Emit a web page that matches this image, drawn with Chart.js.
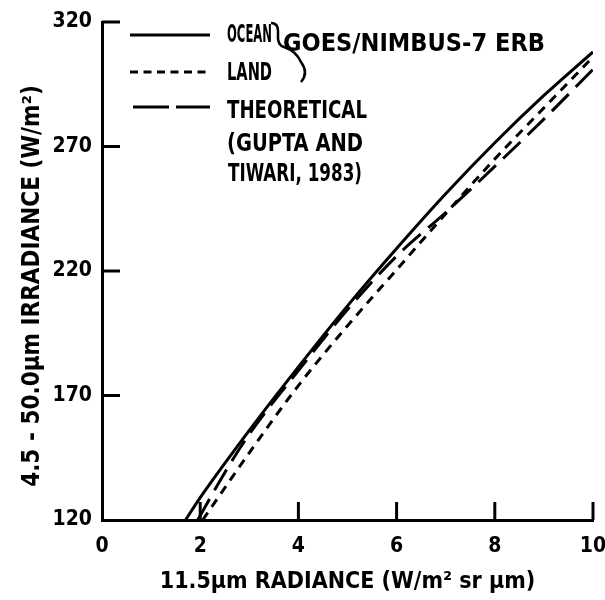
<!DOCTYPE html>
<html>
<head>
<meta charset="utf-8">
<script src="https://cdn.jsdelivr.net/npm/chart.js@4.4.1/dist/chart.umd.min.js"></script>
<style>
html,body{margin:0;padding:0;background:#fff;}
#wrap{width:605px;height:600px;}
</style>
</head>
<body>
<div id="wrap"><canvas id="c" width="605" height="600"></canvas></div>
<script>
// ---- data ----
const oceanX = [1.7, 2, 3, 4, 5, 6, 7, 8, 9, 10];
const oceanY = [120, 129, 156, 181.5, 206, 229, 251, 271.5, 290.5, 308];
const landX  = [2.05, 3, 4, 5, 6, 7, 8, 9, 10];
const landY  = [120, 147, 174, 198, 220.5, 243, 265, 285.5, 306];
const theoX  = [1.95, 2.5, 3, 4, 5, 6, 7, 8, 9, 10];
const theoY  = [120, 139, 154.5, 180, 204.5, 226, 243.5, 262, 281, 301];
const xTickMarks = [2, 4, 6, 8, 10];
const yTickMarks = [170, 220, 270, 320];
const legendLines = ['OCEAN', 'LAND', 'THEORETICAL', '(GUPTA AND', 'TIWARI, 1983)'];
const legendGroup = 'GOES/NIMBUS-7 ERB';
const xTitle = '11.5\u00B5m RADIANCE (W/m\u00B2 sr \u00B5m)';
const yTitle = '4.5 - 50.0\u00B5m IRRADIANCE (W/m\u00B2)    ';

const FONT = '"DejaVu Sans Condensed", "Liberation Sans Narrow", sans-serif';
const toXY = (xs, ys) => xs.map((x, i) => ({x: x, y: ys[i]}));

const innerTicks = {
  id: 'innerTicks',
  afterDatasetsDraw(chart) {
    const {ctx, scales: {x, y}, chartArea} = chart;
    ctx.save();
    ctx.strokeStyle = '#000';
    ctx.lineWidth = 3;
    ctx.lineCap = 'butt';
    ctx.beginPath();
    yTickMarks.forEach(v => {
      const py = y.getPixelForValue(v);
      ctx.moveTo(chartArea.left, py);
      ctx.lineTo(chartArea.left + 18, py);
    });
    xTickMarks.forEach(v => {
      const px = x.getPixelForValue(v);
      ctx.moveTo(px, chartArea.bottom);
      ctx.lineTo(px, chartArea.bottom - 18);
    });
    ctx.stroke();
    ctx.restore();
  }
};

// text squeezed/stretched horizontally to the lettering width of the reference
function fitText(ctx, text, x, y, width) {
  const w = ctx.measureText(text).width;
  ctx.save();
  ctx.translate(x, y);
  ctx.scale(width / w, 1);
  ctx.fillText(text, 0, 0);
  ctx.restore();
}

const customLegend = {
  id: 'customLegend',
  afterDraw(chart) {
    const ctx = chart.ctx;
    ctx.save();
    ctx.strokeStyle = '#000';
    ctx.fillStyle = '#000';
    ctx.lineWidth = 3;
    const samples = [
      {y: 35, dash: [], x1: 130, x2: 210},
      {y: 72, dash: [8, 5.5], x1: 130, x2: 208},
      {y: 107, dash: [36, 7], x1: 133, x2: 210}
    ];
    samples.forEach(s => {
      ctx.setLineDash(s.dash);
      ctx.beginPath();
      ctx.moveTo(s.x1, s.y);
      ctx.lineTo(s.x2, s.y);
      ctx.stroke();
    });
    ctx.setLineDash([]);
    ctx.font = 'bold 24px ' + FONT;
    ctx.textBaseline = 'alphabetic';
    ctx.textAlign = 'left';
    const pos = [
      {x: 227, y: 42, w: 45},
      {x: 227, y: 80, w: 45},
      {x: 227, y: 118, w: 140},
      {x: 227, y: 151, w: 136},
      {x: 228, y: 181, w: 134}
    ];
    legendLines.forEach((t, i) => fitText(ctx, t, pos[i].x, pos[i].y, pos[i].w));
    fitText(ctx, legendGroup, 283, 51, 262);
    // brace
    ctx.lineWidth = 2.5;
    ctx.beginPath();
    ctx.moveTo(271, 23);
    ctx.quadraticCurveTo(278, 23, 278, 31);
    ctx.lineTo(278, 39);
    ctx.quadraticCurveTo(279, 46, 284, 47);
    ctx.moveTo(284, 47);
    ctx.quadraticCurveTo(296, 51, 301, 62);
    ctx.quadraticCurveTo(309, 73, 301, 82);
    ctx.stroke();
    ctx.restore();
  }
};

new Chart(document.getElementById('c'), {
  type: 'line',
  data: {
    datasets: [
      {label: 'OCEAN', data: toXY(oceanX, oceanY), borderColor: '#000', borderWidth: 3, pointRadius: 0, cubicInterpolationMode: 'monotone', fill: false},
      {label: 'LAND', data: toXY(landX, landY), borderColor: '#000', borderWidth: 3, borderDash: [9, 7], pointRadius: 0, cubicInterpolationMode: 'monotone', fill: false},
      {label: 'THEORETICAL', data: toXY(theoX, theoY), borderColor: '#000', borderWidth: 3, borderDash: [24, 10], pointRadius: 0, cubicInterpolationMode: 'monotone', fill: false}
    ]
  },
  options: {
    responsive: false,
    animation: false,
    events: [],
    layout: {padding: {top: 22, right: 12, left: 0, bottom: 0}},
    plugins: {legend: {display: false}, tooltip: {enabled: false}},
    scales: {
      x: {
        type: 'linear', min: 0, max: 10,
        afterFit: s => { s.height = 80; s.paddingLeft = 0; s.paddingRight = 12; },
        grid: {display: false, drawTicks: false},
        border: {display: true, width: 3, color: '#000'},
        ticks: {stepSize: 2, padding: 14, color: '#000', font: {family: FONT, weight: 'bold', size: 21}},
        title: {display: true, text: xTitle, color: '#000', font: {family: FONT, weight: 'bold', size: 23}, padding: {top: 0, bottom: 4}}
      },
      y: {
        type: 'linear', min: 120, max: 320,
        afterFit: s => { s.width = 102; s.paddingTop = 0; s.paddingBottom = 0; },
        grid: {display: false, drawTicks: false},
        border: {display: true, width: 3, color: '#000'},
        ticks: {stepSize: 50, padding: 10, color: '#000', font: {family: FONT, weight: 'bold', size: 21}},
        title: {display: true, text: yTitle, color: '#000', font: {family: FONT, weight: 'bold', size: 24}, padding: {top: 18, bottom: 0}}
      }
    }
  },
  plugins: [innerTicks, customLegend]
});
</script>
</body>
</html>
